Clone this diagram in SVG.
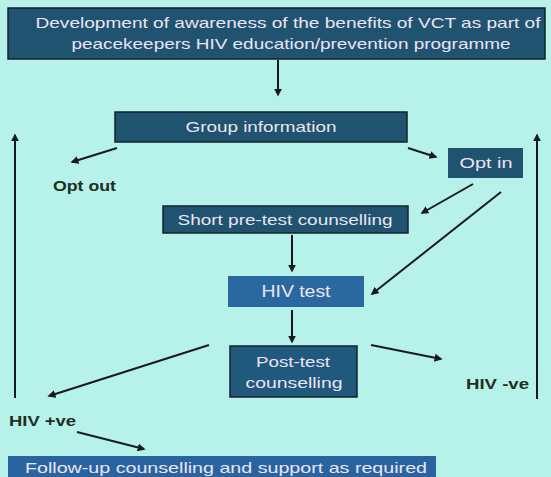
<svg xmlns="http://www.w3.org/2000/svg" width="551" height="477" viewBox="0 0 551 477">
<defs>
<marker id="ah" viewBox="0 0 10 10" refX="8" refY="5" markerWidth="4" markerHeight="4" orient="auto" markerUnits="strokeWidth">
<path d="M0,0 L10,5 L0,10 z" fill="#1a1a1a"/>
</marker>
<style>
.bx{fill:#1f5370;stroke:#15222a;stroke-width:1.5}
.bx2{fill:#2a68a0;stroke:none}
.t{font-family:"Liberation Sans",Arial,sans-serif;font-size:15px;fill:#ece4f2;text-anchor:middle}
.lb{font-family:"Liberation Sans",Arial,sans-serif;font-size:14px;font-weight:bold;fill:#1e2e22}
.c{fill:none;stroke:#1a1a1a;stroke-width:2;marker-end:url(#ah)}
</style>
</defs>
<rect width="551" height="477" fill="#b6f1ea"/>
<g id="awareness">
<rect class="bx" x="8" y="8" width="537" height="51"/>
<text class="t" x="288" y="28" textLength="505" lengthAdjust="spacingAndGlyphs">Development of  awareness of the benefits  of VCT as part of</text>
<text class="t" x="291" y="49" textLength="439" lengthAdjust="spacingAndGlyphs">peacekeepers HIV education/prevention programme</text>
</g>
<g id="group">
<rect class="bx" x="115" y="112" width="292" height="30"/>
<text class="t" x="261" y="132" textLength="151" lengthAdjust="spacingAndGlyphs">Group information</text>
</g>
<g id="optout">
<text class="lb" x="53" y="191" textLength="63" lengthAdjust="spacingAndGlyphs">Opt out</text>
</g>
<g id="optin">
<rect class="bx" x="448" y="148" width="75" height="30" style="stroke:none"/>
<text class="t" x="486" y="168" textLength="53" lengthAdjust="spacingAndGlyphs">Opt in</text>
</g>
<g id="pretest">
<rect class="bx" x="163" y="206" width="245" height="27"/>
<text class="t" x="285" y="225" textLength="215" lengthAdjust="spacingAndGlyphs">Short pre-test counselling</text>
</g>
<g id="hivtest">
<rect class="bx2" x="228" y="276" width="136" height="31"/>
<text class="t" x="296" y="297" style="font-size:16px" textLength="69" lengthAdjust="spacingAndGlyphs">HIV test</text>
</g>
<g id="posttest">
<rect class="bx" x="230" y="346" width="127" height="51" style="fill:#20587e"/>
<text class="t" x="293" y="367" textLength="74" lengthAdjust="spacingAndGlyphs">Post-test</text>
<text class="t" x="294" y="388" textLength="97" lengthAdjust="spacingAndGlyphs">counselling</text>
</g>
<g id="hivneg">
<text class="lb" x="466" y="389" textLength="63" lengthAdjust="spacingAndGlyphs">HIV -ve</text>
</g>
<g id="hivpos">
<text class="lb" x="9" y="426" textLength="67" lengthAdjust="spacingAndGlyphs">HIV +ve</text>
</g>
<g id="followup">
<rect class="bx2" x="8" y="456" width="428" height="21" style="fill:#2a64a0"/>
<text class="t" x="226" y="473" textLength="402" lengthAdjust="spacingAndGlyphs">Follow-up counselling and support as required</text>
</g>
<g id="connectors">
<path class="c" d="M278,60 L278,95"/>
<path class="c" d="M15,398 L15,135"/>
<path class="c" d="M537,399 L537,135"/>
<path class="c" d="M117,148 L72,162"/>
<path class="c" d="M408,148 L436,157"/>
<path class="c" d="M473,184 L422,213"/>
<path class="c" d="M501,192 L372,294"/>
<path class="c" d="M292,235 L292,271"/>
<path class="c" d="M292,310 L292,342"/>
<path class="c" d="M209,345 L49,396"/>
<path class="c" d="M371,345 L441,359"/>
<path class="c" d="M77,432 L144,449"/>
</g>
</svg>
